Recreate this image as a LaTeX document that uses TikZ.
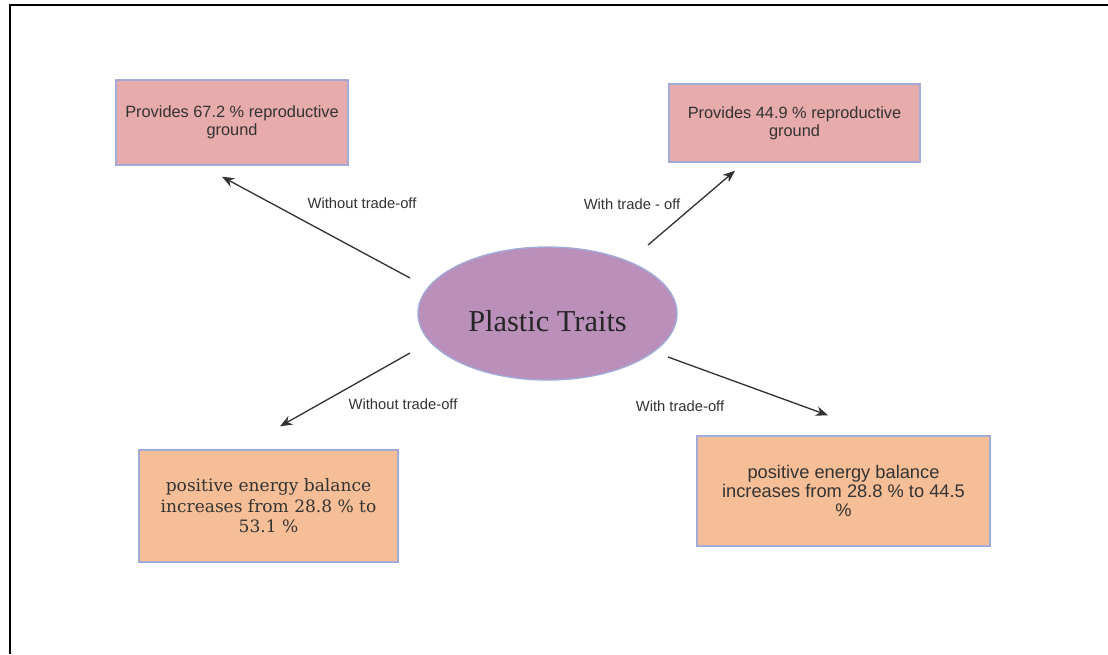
\documentclass[tikz,border=0pt]{standalone}
\usepackage{fontspec}
\usepackage{xcolor}
\usepackage{tikz}
\usetikzlibrary{arrows.meta,shapes.geometric}
\newfontfamily\sansfam{Liberation Sans}
\newfontfamily\serifhead{Liberation Serif}
\newfontfamily\serifbody{DejaVu Serif}
\definecolor{boxpink}{RGB}{232,171,171}
\definecolor{boxorange}{RGB}{245,190,150}
\definecolor{ovalpurple}{RGB}{186,143,186}
\definecolor{edgeblue}{RGB}{162,170,215}
\definecolor{inkgray}{RGB}{51,51,51}

\begin{document}
\begin{tikzpicture}[x=0.02cm, y=-0.02cm,
      box/.style={draw=edgeblue, line width=0.8pt, align=center, inner sep=2pt, text=inkgray},
      pinkbox/.style={box, fill=boxpink, font=\sansfam\fontsize{9.3}{11.3}\selectfont},
      orangebox/.style={box, fill=boxorange},
      oval/.style={ellipse, draw=edgeblue, line width=0.8pt, fill=ovalpurple, inner sep=0pt,
                   minimum width=5.18cm, minimum height=2.66cm, text=black!85,
                   font=\serifhead\fontsize{17.3}{20}\selectfont},
      ar/.style={-{Stealth[length=7pt, width=5.5pt]}, line width=0.75pt, draw=black!80},
      lbl/.style={font=\sansfam\fontsize{8.4}{10}\selectfont, text=inkgray, inner sep=1pt}
    ]
    \useasboundingbox (0,0) rectangle (1108,654);
    \fill[white] (0,0) rectangle (1108,654);
    \draw[line width=1.5pt] (1108,5) -- (10,5) -- (10,654);

    \node[oval] (pt) at (547.5,313.5) {\raisebox{-4.5pt}[\height][\depth]{Plastic Traits}};
    \node[pinkbox, minimum width=4.64cm, minimum height=1.70cm] (tl) at (232,122.5)
      {\raisebox{-1pt}{Provides 67.2 \% reproductive}\\ground};
    \node[pinkbox, minimum width=5.02cm, minimum height=1.56cm] (tr) at (794.5,123)
      {\raisebox{-1pt}{Provides 44.9 \% reproductive}\\ground};
    \node[orangebox, minimum width=5.18cm, minimum height=2.24cm,
          font=\serifbody\fontsize{9.7}{11.6}\selectfont] (bl) at (268.5,506)
      {positive energy balance\\increases from 28.8 \% to\\53.1 \%};
    \node[orangebox, minimum width=5.86cm, minimum height=2.20cm,
          font=\sansfam\fontsize{10.4}{10.6}\selectfont] (br) at (843.5,491)
      {positive energy balance\\increases from 28.8 \% to 44.5\\\%};

    \draw[ar] ([shift={(-137.5,-35.5)}]pt.center) -- ([shift={(-10,11)}]tl.south);
    \draw[ar] ([shift={(100.5,-68.5)}]pt.center) -- ([shift={(-59.5,8)}]tr.south);
    \draw[ar] ([shift={(-137.5,39.5)}]pt.center) -- ([shift={(11.5,-23)}]bl.north);
    \draw[ar] ([shift={(120.5,43.5)}]pt.center) -- ([shift={(-15.5,-20)}]br.north);

    \node[lbl] (l1) at (362,203) {Without trade-off};
    \node[lbl] (l2) at (632,204) {With trade - off};
    \node[lbl] (l3) at (403,404) {Without trade-off};
    \node[lbl] (l4) at (680,406) {With trade-off};
  \end{tikzpicture}
\end{document}
